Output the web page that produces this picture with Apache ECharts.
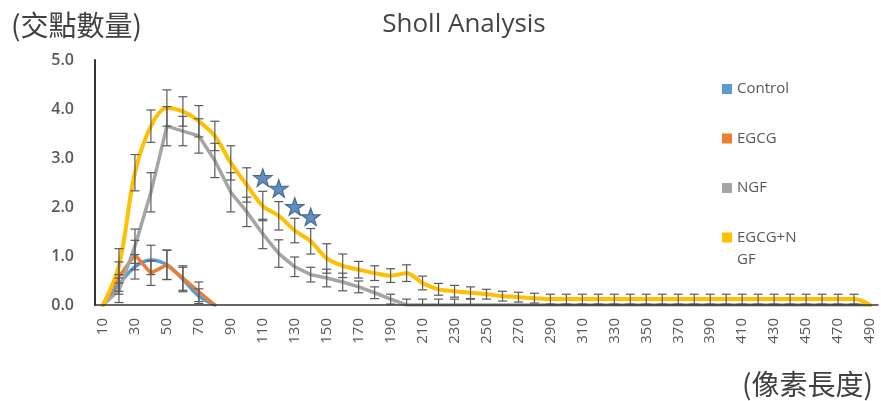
<!DOCTYPE html>
<html>
<head>
<meta charset="utf-8">
<script src="https://cdn.jsdelivr.net/npm/echarts@6/dist/echarts.min.js"></script>
<style>
  html, body { margin: 0; padding: 0; background: #ffffff; }
  #chart { width: 881px; height: 401px; }
</style>
</head>
<body>
<div id="chart"></div>
<script>
// Sholl analysis: number of intersections vs. radial distance (pixels)
const radii = ['10','20','30','40','50','60','70','80','90','100',
  '110','120','130','140','150','160','170','180','190','200',
  '210','220','230','240','250','260','270','280','290','300',
  '310','320','330','340','350','360','370','380','390','400',
  '410','420','430','440','450','460','470','480','490'];

const controlMean = [0, 0.42, 0.78, 0.92, 0.82, 0.52, 0.18, 0];
const controlErr  = [0, 0.20, 0.25, 0.30, 0.30, 0.25, 0.15, 0];

const egcgMean = [0, 0.58, 1.02, 0.65, 0.82, 0.55, 0.27, 0];
const egcgErr  = [0, 0.30, 0.30, 0.25, 0.30, 0.25, 0.20, 0];

const ngfMean = [0, 0.30, 1.20, 2.30, 3.65, 3.55, 3.45, 2.95, 2.30, 1.90,
  1.45, 1.05, 0.78, 0.62, 0.55, 0.47, 0.37, 0.25, 0.12, 0,
  0, 0, 0, 0, 0, 0, 0, 0, 0, 0,
  0, 0, 0, 0, 0, 0, 0, 0, 0, 0,
  0, 0, 0, 0, 0, 0, 0, 0, 0];
const ngfErr = [0, 0.25, 0.35, 0.40, 0.40, 0.30, 0.35, 0.35, 0.40, 0.30,
  0.30, 0.28, 0.20, 0.15, 0.18, 0.18, 0.12, 0.12, 0.10, 0.12,
  0.12, 0.12, 0.12, 0.12, 0, 0, 0, 0, 0, 0,
  0, 0, 0, 0, 0, 0, 0, 0, 0, 0,
  0, 0, 0, 0, 0, 0, 0, 0, 0];

const comboMean = [0, 0.80, 2.70, 3.65, 4.02, 3.95, 3.75, 3.45, 2.90, 2.45,
  2.02, 1.82, 1.52, 1.30, 0.95, 0.80, 0.72, 0.65, 0.60, 0.65,
  0.45, 0.32, 0.28, 0.25, 0.22, 0.18, 0.16, 0.14, 0.12, 0.12,
  0.12, 0.12, 0.12, 0.12, 0.12, 0.12, 0.12, 0.12, 0.12, 0.12,
  0.12, 0.12, 0.12, 0.12, 0.12, 0.12, 0.12, 0.12, 0];
const comboErr = [0, 0.35, 0.37, 0.33, 0.37, 0.30, 0.32, 0.30, 0.35, 0.35,
  0.30, 0.29, 0.25, 0.26, 0.30, 0.24, 0.17, 0.15, 0.14, 0.17,
  0.14, 0.12, 0.12, 0.12, 0.10, 0.10, 0.10, 0.10, 0.10, 0.10,
  0.10, 0.10, 0.10, 0.10, 0.10, 0.10, 0.10, 0.10, 0.10, 0.10,
  0.10, 0.10, 0.10, 0.10, 0.10, 0.10, 0.10, 0.10, 0];

// significance markers (EGCG+NGF vs NGF)
const starRadii  = ['110', '120', '130', '140'];
const starValues = [2.60, 2.38, 2.01, 1.80];

const yTicks = [0, 1, 2, 3, 4, 5];

const LATIN = "'Open Sans', 'Noto Sans CJK TC', sans-serif";
const TEXT_GREY = '#595959';

const seriesDefs = [
  { name: 'Control',  color: '#5B9BD5', mean: controlMean, err: controlErr, smooth: 0.35 },
  { name: 'EGCG',     color: '#ED7D31', mean: egcgMean,    err: egcgErr,    smooth: false },
  { name: 'NGF',      color: '#A5A5A5', mean: ngfMean,     err: ngfErr,     smooth: false },
  { name: 'EGCG+NGF', color: '#FFC000', mean: comboMean,   err: comboErr,   smooth: 0.35 }
];

function errorBars(def) {
  const rows = [];
  def.mean.forEach((m, i) => {
    if (def.err[i] > 0) rows.push([i, m - def.err[i], m + def.err[i]]);
  });
  return {
    type: 'custom',
    name: def.name + ' SD',
    silent: true,
    clip: true,
    z: 4,
    data: rows,
    encode: { x: 0, y: [1, 2] },
    renderItem: function (params, api) {
      const x = api.value(0);
      const lo = api.coord([x, api.value(1)]);
      const hi = api.coord([x, api.value(2)]);
      const half = 4.5;
      const style = { stroke: '#5a5a5a', lineWidth: 1.2 };
      return {
        type: 'group',
        children: [
          { type: 'line', shape: { x1: lo[0], y1: lo[1], x2: hi[0], y2: hi[1] }, style: style },
          { type: 'line', shape: { x1: hi[0] - half, y1: hi[1], x2: hi[0] + half, y2: hi[1] }, style: style },
          { type: 'line', shape: { x1: lo[0] - half, y1: lo[1], x2: lo[0] + half, y2: lo[1] }, style: style }
        ]
      };
    }
  };
}

const lineSeries = seriesDefs.map((d, k) => ({
  type: 'line',
  name: d.name,
  data: d.mean,
  color: d.color,
  smooth: d.smooth,
  symbol: 'none',
  z: 2 + k * 0.1,
  lineStyle: { color: d.color, width: d.name === 'EGCG+NGF' ? 4 : 3.5, cap: 'round', join: 'round' }
}));

const STAR = 'path://M50,0 L61.8,35.1 L98.1,35.1 L68.8,56.7 L79.4,91 L50,70 L20.6,91 L31.2,56.7 L1.9,35.1 L38.2,35.1 Z';

const option = {
  animation: false,
  backgroundColor: '#ffffff',
  grid: { left: 95, right: 3, top: 60, bottom: 96, containLabel: false },
  legend: {
    orient: 'vertical',
    left: 722,
    top: 81,
    padding: 0,
    itemWidth: 10,
    itemHeight: 10,
    itemGap: 33.5,
    icon: 'rect',
    data: seriesDefs.map(d => d.name),
    formatter: n => (n === 'EGCG+NGF' ? 'EGCG+N' : n),
    textStyle: { fontFamily: LATIN, fontSize: 15, color: TEXT_GREY, lineHeight: 16 }
  },
  xAxis: {
    type: 'category',
    data: radii,
    boundaryGap: true,
    z: 10,
    axisLine: { lineStyle: { color: '#333333', width: 1.6 } },
    axisTick: { show: false },
    splitLine: { show: false },
    axisLabel: {
      interval: 1,
      rotate: 90,
      margin: 13,
      fontFamily: LATIN,
      fontSize: 15,
      color: TEXT_GREY
    }
  },
  yAxis: {
    type: 'value',
    min: 0,
    max: 5,
    interval: 1,
    z: 10,
    axisLine: { show: true, lineStyle: { color: '#333333', width: 2 } },
    axisTick: { show: false },
    splitLine: { show: false },
    axisLabel: {
      margin: 21,
      fontFamily: LATIN,
      fontSize: 16,
      fontWeight: 600,
      color: TEXT_GREY,
      formatter: v => (yTicks.includes(v) ? v.toFixed(1) : '')
    }
  },
  graphic: [
    { type: 'text', x: 464, y: 25,
      style: { text: 'Sholl Analysis', textAlign: 'center', textVerticalAlign: 'middle',
               font: "26px 'Open Sans', sans-serif", fill: '#454545' } },
    { type: 'text', x: 11, y: 25,
      style: { text: '(交點數量)', textAlign: 'left', textVerticalAlign: 'middle',
               font: "28px 'Noto Sans CJK TC', sans-serif", fill: '#404040' } },
    { type: 'text', x: 873, y: 384,
      style: { text: '(像素長度)', textAlign: 'right', textVerticalAlign: 'middle',
               font: "28px 'Noto Sans CJK TC', sans-serif", fill: '#404040' } },
    { type: 'text', x: 737, y: 260,
      style: { text: 'GF', textAlign: 'left', textVerticalAlign: 'middle',
               font: "15px 'Open Sans', sans-serif", fill: TEXT_GREY } }
  ],
  series: [
    ...lineSeries,
    ...seriesDefs.map(errorBars),
    {
      type: 'scatter',
      name: 'significance',
      data: starRadii.map((r, i) => [r, starValues[i]]),
      symbol: STAR,
      symbolSize: [19, 18],
      z: 6,
      silent: true,
      itemStyle: { color: '#3b6fa8', borderColor: '#22507f', borderWidth: 1 }
    }
  ]
};

const chart = echarts.init(document.getElementById('chart'), null, { renderer: 'canvas' });
chart.setOption(option);
</script>
</body>
</html>
